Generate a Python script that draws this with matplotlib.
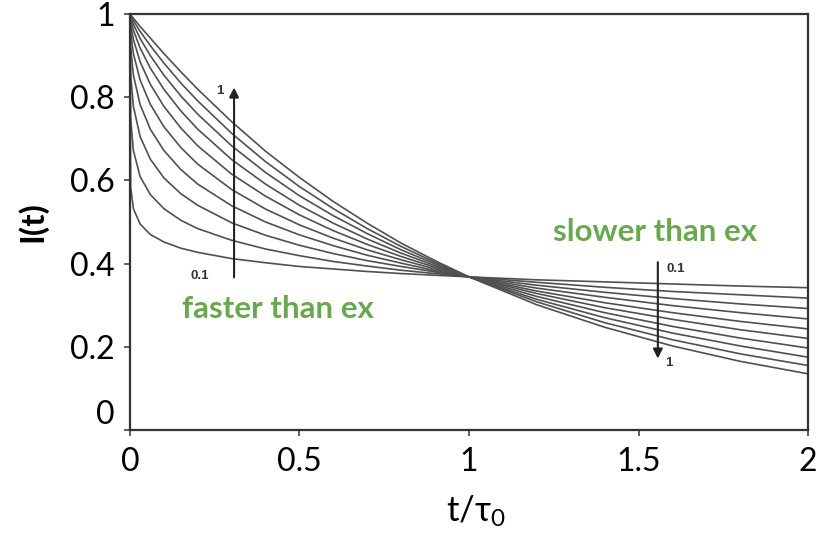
import matplotlib
matplotlib.use("Agg")
import matplotlib.pyplot as plt

# sample times (t / tau0) and curve values
t = [0, 0.002, 0.01, 0.03, 0.06, 0.1, 0.15, 0.2, 0.3, 0.4, 0.5, 0.6, 0.7,
     0.8, 0.9, 1.0, 1.2, 1.4, 1.6, 1.8, 2.0]

i_b01 = [1, 0.584, 0.532, 0.495, 0.470, 0.452, 0.437, 0.427, 0.412, 0.402, 0.393,
         0.387, 0.381, 0.376, 0.372, 0.368, 0.361, 0.356, 0.351, 0.346, 0.342]
i_b02 = [1, 0.749, 0.672, 0.609, 0.566, 0.532, 0.504, 0.484, 0.456, 0.435, 0.419,
         0.405, 0.394, 0.384, 0.376, 0.368, 0.355, 0.343, 0.333, 0.325, 0.317]
i_b03 = [1, 0.856, 0.778, 0.705, 0.651, 0.606, 0.568, 0.540, 0.498, 0.468, 0.444,
         0.424, 0.407, 0.393, 0.380, 0.368, 0.348, 0.331, 0.316, 0.303, 0.292]
i_b04 = [1, 0.920, 0.853, 0.782, 0.723, 0.672, 0.626, 0.591, 0.539, 0.500, 0.469,
         0.443, 0.420, 0.401, 0.383, 0.368, 0.341, 0.319, 0.299, 0.282, 0.267]
i_b05 = [1, 0.956, 0.905, 0.841, 0.783, 0.729, 0.679, 0.639, 0.578, 0.531, 0.493,
         0.461, 0.433, 0.409, 0.387, 0.368, 0.334, 0.306, 0.282, 0.261, 0.243]
i_b06 = [1, 0.976, 0.939, 0.885, 0.831, 0.778, 0.726, 0.683, 0.615, 0.562, 0.517,
         0.479, 0.446, 0.417, 0.391, 0.368, 0.328, 0.294, 0.266, 0.241, 0.220]
i_b07 = [1, 0.987, 0.961, 0.918, 0.870, 0.819, 0.767, 0.723, 0.650, 0.591, 0.540,
         0.497, 0.459, 0.425, 0.395, 0.368, 0.321, 0.282, 0.249, 0.221, 0.197]
i_b08 = [1, 0.993, 0.975, 0.941, 0.900, 0.853, 0.803, 0.759, 0.683, 0.619, 0.563,
         0.515, 0.472, 0.433, 0.399, 0.368, 0.314, 0.270, 0.233, 0.202, 0.175]
i_b09 = [1, 0.996, 0.984, 0.958, 0.924, 0.882, 0.834, 0.791, 0.713, 0.645, 0.585,
         0.532, 0.484, 0.441, 0.403, 0.368, 0.308, 0.258, 0.217, 0.183, 0.155]
i_b10 = [1, 0.998, 0.990, 0.970, 0.942, 0.905, 0.861, 0.819, 0.741, 0.670, 0.607,
         0.549, 0.497, 0.449, 0.407, 0.368, 0.301, 0.247, 0.202, 0.165, 0.135]

curves = [i_b01, i_b02, i_b03, i_b04, i_b05, i_b06, i_b07, i_b08, i_b09, i_b10]

plt.rcParams['font.family'] = ['Lato', 'DejaVu Sans']

fig = plt.figure(figsize=(8.19, 5.36), dpi=100)
ax = fig.add_axes([0.1587, 0.1978, 0.8279, 0.7761])

for c in curves:
    ax.plot(t, c, color='#505050', lw=1.2)

ax.set_xlim(0, 2)
ax.set_ylim(0, 1)
ax.set_xticks([0, 0.5, 1, 1.5, 2])
ax.set_xticklabels(['0', '0.5', '1', '1.5', '2'])
ax.set_yticks([0, 0.2, 0.4, 0.6, 0.8, 1])
ax.set_yticklabels(['0', '0.2', '0.4', '0.6', '0.8', '1'])
ax.tick_params(axis='y', labelsize=23, length=4, width=1.2, pad=7, color='#444444')
ax.tick_params(axis='x', labelsize=23, length=4, width=1.2, pad=8, color='#444444')
ax.get_yticklabels()[0].set_va('bottom')
for s in ax.spines.values():
    s.set_linewidth(1.6)
    s.set_color('#333333')

ax.set_ylabel('I(t)', fontsize=24, fontweight='bold', va='center')
ax.yaxis.set_label_coords(-0.145, 0.5)
ax.set_xlabel(r't/$\mathregular{\tau_0}$', fontsize=25, va='center')
ax.xaxis.set_label_coords(0.51, -0.195)

# arrows and labels
ax.annotate('', xy=(0.307, 0.83), xytext=(0.307, 0.36),
            arrowprops=dict(arrowstyle='-|>', color='#222222', lw=1.5,
                            mutation_scale=14))
ax.text(0.265, 0.815, '1', fontsize=9.5, fontweight='bold', color='#333333',
        family='Liberation Sans', ha='center', va='center')
ax.text(0.205, 0.37, '0.1', fontsize=9.5, fontweight='bold', color='#333333',
        family='Liberation Sans', ha='center', va='center')

ax.annotate('', xy=(1.557, 0.165), xytext=(1.557, 0.41),
            arrowprops=dict(arrowstyle='-|>', color='#222222', lw=1.5,
                            mutation_scale=14))
ax.text(1.61, 0.387, '0.1', fontsize=9.5, fontweight='bold', color='#333333',
        family='Liberation Sans', ha='center', va='center')
ax.text(1.59, 0.16, '1', fontsize=9.5, fontweight='bold', color='#333333',
        family='Liberation Sans', ha='center', va='center')

ax.text(0.437, 0.29, 'faster than ex', fontsize=22.5, fontweight='bold',
        color='#6aa84f', ha='center', va='center')
ax.text(1.55, 0.475, 'slower than ex', fontsize=22.5, fontweight='bold',
        color='#6aa84f', ha='center', va='center')

fig.savefig('out.png', dpi=100)
